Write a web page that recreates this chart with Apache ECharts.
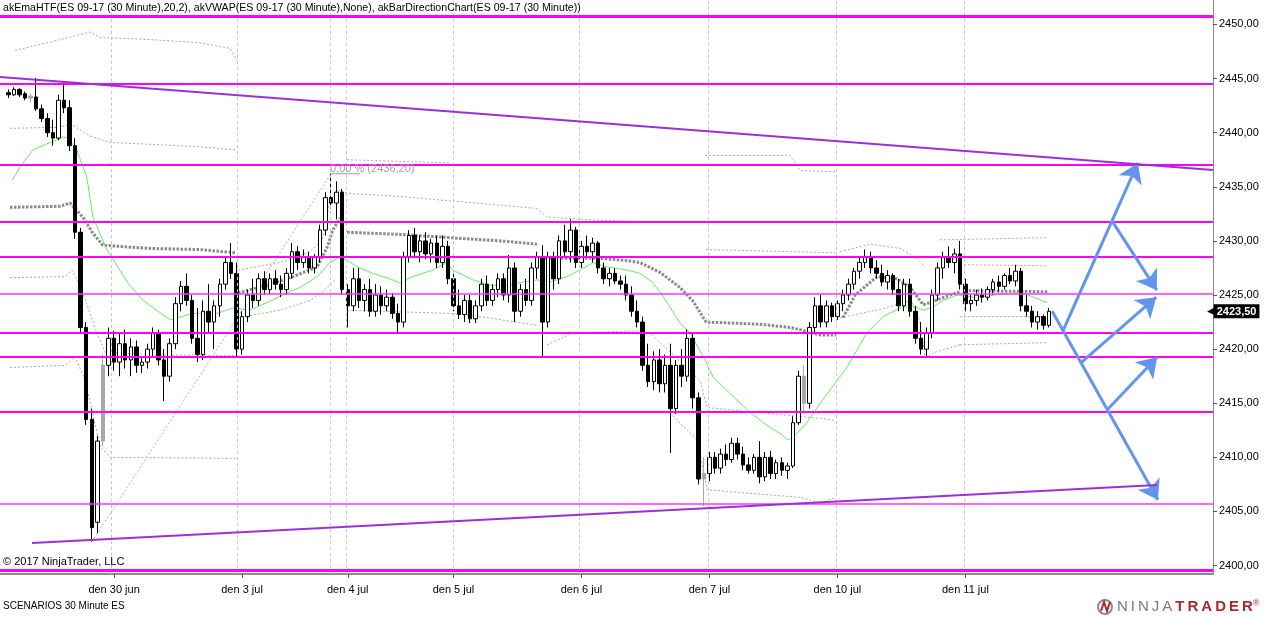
<!DOCTYPE html>
<html><head><meta charset="utf-8">
<script src="https://cdn.jsdelivr.net/npm/echarts@6/dist/echarts.min.js"></script>
<style>html,body{margin:0;padding:0;background:#fff}#c{width:1264px;height:617px}</style>
</head><body><div id="c"></div>
<script>
// ---------------- data ----------------
const slotCount = 218;               // hourly slots across the x axis (incl. empty right margin)
const firstSlot = 1;                 // slot of the first candle
const xTickIndex = [20, 43, 62, 81, 104, 127, 150, 173];
const xTickText = ['den 30 jun', 'den 3 jul', 'den 4 jul', 'den 5 jul', 'den 6 jul', 'den 7 jul', 'den 10 jul', 'den 11 jul'];
const sessionBreaks = [19.45, 42.1, 58.8, 61.7, 80.9, 103.6, 126.7, 149.8, 172.8];
const yTicks = [2400, 2405, 2410, 2415, 2420, 2425, 2430, 2435, 2440, 2445, 2450];
const lastPrice = 2423.5;

// [open, high, low, close]
const ohlc = [
[2443.7,2444.0,2443.2,2443.5],[2443.5,2444.2,2443.4,2444.0],[2444.0,2444.1,2443.3,2443.5],[2443.6,2443.8,2443.0,2443.2],
[2443.2,2443.6,2442.8,2443.4],[2443.3,2445.05,2442.0,2442.2],[2442.2,2442.6,2441.0,2441.3],[2441.3,2441.8,2439.6,2440.0],
[2440.0,2441.2,2438.8,2439.5],[2439.5,2443.5,2439.3,2443.0],[2443.0,2444.7,2441.8,2442.3],[2442.3,2443.0,2438.3,2438.8],
[2438.8,2439.5,2430.2,2430.8],[2430.8,2431.2,2421.5,2422.0],[2422.0,2422.5,2413.0,2413.5],[2413.5,2414.5,2402.2,2403.5],
[2404.0,2412.0,2403.0,2411.5],[2411.5,2419.5,2411.0,2418.5],[2418.5,2422.0,2417.5,2421.0],[2421.0,2421.7,2418.0,2418.8],
[2418.8,2421.5,2417.5,2420.5],[2420.5,2421.8,2418.2,2419.0],[2419.0,2421.0,2417.5,2420.2],[2420.2,2420.8,2417.8,2418.5],
[2418.5,2419.2,2417.8,2418.8],[2418.8,2420.5,2418.2,2420.0],[2420.0,2422.0,2419.3,2421.5],[2421.5,2421.8,2418.5,2419.0],
[2419.0,2420.0,2415.2,2417.5],[2417.5,2421.0,2417.0,2420.5],[2420.5,2424.8,2420.0,2424.2],[2424.2,2426.3,2423.5,2425.8],
[2425.8,2427.0,2424.0,2424.5],[2424.5,2425.0,2420.5,2421.0],[2421.0,2423.8,2418.8,2419.5],[2419.5,2424.5,2419.0,2423.5],
[2423.5,2426.0,2421.5,2422.5],[2422.5,2424.5,2420.0,2424.0],[2424.0,2426.5,2423.0,2426.0],[2426.0,2428.5,2425.5,2428.0],
[2428.0,2429.8,2426.5,2427.0],[2427.0,2428.0,2419.3,2420.0],[2420.0,2423.5,2419.5,2423.0],[2423.0,2425.5,2422.5,2425.0],
[2425.0,2426.5,2423.8,2424.5],[2424.5,2427.0,2424.0,2426.5],[2426.5,2427.2,2425.0,2425.5],[2425.5,2427.0,2425.0,2426.5],
[2426.5,2427.3,2425.5,2426.0],[2426.0,2426.8,2424.8,2425.5],[2425.5,2427.5,2425.0,2427.0],[2427.0,2429.8,2426.5,2429.0],
[2429.0,2429.5,2427.3,2428.0],[2428.0,2429.2,2427.5,2428.5],[2428.5,2429.0,2427.0,2427.5],[2427.5,2428.8,2427.0,2428.5],
[2428.5,2431.5,2428.0,2431.0],[2431.0,2434.5,2430.5,2434.0],[2434.0,2436.2,2433.0,2433.5],[2433.5,2435.5,2432.0,2434.5],
[2434.5,2434.8,2425.0,2425.5],[2425.5,2426.0,2422.0,2424.0],[2424.0,2427.5,2423.5,2426.5],[2426.5,2427.5,2423.8,2424.5],
[2424.5,2426.0,2423.5,2425.5],[2425.5,2426.5,2423.0,2423.5],[2423.5,2426.0,2423.0,2425.0],[2425.0,2425.8,2423.2,2424.0],
[2424.0,2425.5,2423.5,2424.8],[2424.8,2425.2,2422.8,2423.3],[2423.3,2424.2,2421.5,2422.5],[2422.5,2429.0,2422.0,2428.5],
[2428.5,2431.0,2428.0,2430.5],[2430.5,2431.2,2428.5,2429.0],[2429.0,2430.5,2428.0,2430.0],[2430.0,2430.8,2428.3,2428.8],
[2428.8,2430.2,2428.0,2429.8],[2429.8,2430.5,2427.5,2428.0],[2428.0,2430.5,2427.5,2429.5],[2429.5,2430.0,2426.0,2426.5],
[2426.5,2427.0,2423.5,2424.0],[2424.0,2425.5,2422.8,2423.2],[2423.2,2425.0,2422.5,2424.5],[2424.5,2425.0,2422.4,2422.8],
[2422.8,2424.5,2422.4,2424.0],[2424.0,2426.5,2423.5,2426.0],[2426.0,2426.8,2424.0,2424.5],[2424.5,2426.0,2424.0,2425.5],
[2425.5,2427.0,2424.8,2426.5],[2426.5,2427.0,2424.5,2425.0],[2425.0,2428.7,2424.3,2427.5],[2427.5,2428.0,2422.5,2423.5],
[2423.5,2426.0,2423.0,2425.5],[2425.5,2426.5,2424.0,2424.5],[2424.5,2428.0,2424.0,2427.5],[2427.5,2429.0,2426.5,2428.5],
[2428.5,2429.6,2419.3,2422.5],[2422.5,2429.0,2422.0,2428.5],[2428.5,2429.0,2425.5,2426.5],[2426.5,2430.5,2426.0,2430.0],
[2430.0,2431.5,2428.5,2429.0],[2429.0,2432.0,2428.0,2431.0],[2431.0,2431.3,2427.5,2428.0],[2428.0,2430.0,2427.5,2429.5],
[2429.5,2430.5,2428.5,2429.0],[2429.0,2430.3,2428.0,2429.8],[2429.8,2430.0,2427.0,2427.5],[2427.5,2428.0,2426.0,2426.5],
[2426.5,2427.5,2425.8,2427.0],[2427.0,2427.5,2426.0,2426.3],[2426.3,2426.8,2425.5,2426.0],[2426.0,2426.8,2424.5,2425.0],
[2425.0,2425.8,2423.0,2423.5],[2423.5,2424.5,2422.0,2422.5],[2422.5,2423.0,2418.0,2418.5],[2418.5,2420.5,2416.5,2417.0],
[2417.0,2419.8,2416.2,2419.0],[2419.0,2420.0,2416.0,2416.8],[2416.8,2419.5,2416.0,2418.5],[2418.5,2420.5,2410.4,2414.5],
[2414.5,2419.0,2414.0,2418.5],[2418.5,2420.0,2416.5,2417.5],[2417.5,2421.8,2417.0,2421.0],[2421.0,2421.5,2414.5,2415.5],
[2415.5,2416.0,2407.5,2408.0],[2408.0,2410.0,2405.5,2408.5],[2408.5,2410.5,2407.8,2410.0],[2410.0,2410.5,2408.5,2409.0],
[2409.0,2410.8,2408.5,2410.3],[2410.3,2411.2,2409.2,2409.8],[2409.8,2411.8,2409.5,2411.3],[2411.3,2411.8,2409.8,2410.3],
[2410.3,2411.0,2408.8,2409.3],[2409.3,2410.0,2408.5,2408.8],[2408.8,2410.3,2408.5,2410.0],[2410.0,2411.5,2407.6,2408.2],
[2408.2,2410.5,2407.8,2410.0],[2410.0,2410.6,2408.0,2408.5],[2408.5,2409.8,2408.0,2409.5],[2409.5,2410.0,2408.3,2408.8],
[2408.8,2409.5,2408.0,2409.2],[2409.2,2413.8,2409.0,2413.2],[2413.2,2418.0,2413.0,2417.5],[2417.5,2418.5,2414.0,2415.0],
[2415.0,2422.5,2414.5,2422.0],[2422.0,2424.8,2421.5,2424.0],[2424.0,2425.0,2422.0,2422.5],[2422.5,2424.5,2422.0,2424.0],
[2424.0,2424.3,2422.5,2423.0],[2423.0,2424.5,2422.7,2424.2],[2424.2,2425.5,2423.5,2425.0],[2425.0,2426.5,2424.5,2426.0],
[2426.0,2427.5,2425.5,2427.2],[2427.2,2428.5,2426.5,2428.0],[2428.0,2429.2,2427.5,2428.5],[2428.5,2429.0,2427.0,2427.5],
[2427.5,2428.2,2426.5,2427.0],[2427.0,2427.8,2425.8,2426.2],[2426.2,2427.3,2425.5,2426.8],[2426.8,2427.0,2425.0,2425.5],
[2425.5,2426.5,2423.5,2424.0],[2424.0,2426.5,2423.5,2426.0],[2426.0,2426.5,2423.0,2423.5],[2423.5,2424.0,2420.5,2421.0],
[2421.0,2422.5,2419.5,2420.0],[2420.0,2422.0,2419.2,2421.5],[2421.5,2425.5,2421.0,2425.0],[2425.0,2428.0,2424.5,2427.5],
[2427.5,2429.0,2426.5,2428.5],[2428.5,2429.5,2427.5,2428.0],[2428.0,2429.3,2427.0,2428.8],[2428.8,2430.0,2425.5,2426.0],
[2426.0,2426.5,2423.5,2424.2],[2424.2,2425.0,2423.5,2424.5],[2424.5,2425.5,2424.0,2425.0],[2425.0,2425.6,2424.3,2424.8],
[2424.8,2425.8,2424.5,2425.5],[2425.5,2426.5,2425.0,2426.2],[2426.2,2426.8,2425.3,2425.8],[2425.8,2427.0,2425.5,2426.8],
[2426.8,2427.5,2426.0,2426.3],[2426.3,2427.8,2425.8,2427.2],[2427.2,2427.5,2423.5,2424.0],[2424.0,2425.0,2423.0,2423.5],
[2423.5,2424.0,2422.0,2422.5],[2422.5,2423.5,2421.8,2423.0],[2423.0,2423.2,2421.8,2422.2],[2422.2,2423.8,2422.0,2423.5]
];
const grayBarSlots = [5, 18, 126, 144];

// horizontal support / resistance levels
const levels = [2450.75, 2444.5, 2437.0, 2431.8, 2428.5, 2425.1, 2421.55, 2419.25, 2414.25, 2405.75, 2399.6];
// trend lines [slot, price]
const upperTrend = [[-0.5, 2445.15], [217.5, 2436.55]];
const lowerTrend = [[5.25, 2402.08], [207.45, 2407.44]];
// scenario arrows: [start, end] in [slot, price]
const scenarioArrows = [
  [[188.6, 2423.5], [207.6, 2406.05]],
  [[190.55, 2421.7], [204.0, 2437.2]],
  [[199.4, 2431.8], [207.4, 2425.45]],
  [[193.8, 2418.75], [207.3, 2424.8]],
  [[198.5, 2414.4], [207.45, 2419.25]]
];
// EMA (green)
const ema = [[1.7,2435.6],[3.1,2436.8],[5.4,2438.4],[8.5,2439.1],[10.8,2439.6],[11.7,2439.5],[13.3,2438.4],[15.1,2435.9],
[16.2,2432.2],[18.7,2429.2],[20.2,2428.0],[22.5,2426.1],[25.2,2424.5],[30.1,2422.7],[34.2,2423.3],[38.5,2423.3],[41.4,2423.8],
[44.4,2423.6],[47.5,2424.3],[51.1,2425.2],[53.4,2425.7],[56.5,2426.7],[58.8,2428.0],[60.6,2428.5],[61.9,2428.2],[63.7,2427.6],
[66.5,2427.0],[70.1,2426.4],[71.4,2426.1],[73.7,2426.7],[77.3,2427.3],[79.8,2428.0],[80.9,2427.3],[84.5,2426.4],[87.6,2425.9],
[90.6,2425.9],[93.5,2426.2],[96.0,2426.4],[98.4,2426.2],[101.4,2426.7],[103.7,2427.3],[106.1,2428.0],[108.6,2427.6],[112.2,2427.3],
[114.5,2427.0],[116.7,2426.2],[118.5,2425.0],[119.9,2423.9],[121.7,2422.4],[123.5,2421.5],[125.9,2419.3],[127.7,2417.4],
[130.7,2415.9],[133.8,2414.4],[136.6,2413.2],[139.7,2412.2],[141.1,2411.6],[142.7,2412.2],[144.5,2413.2],[146.9,2415.0],
[151.7,2418.3],[155.3,2421.5],[158.2,2423.0],[161.3,2423.8],[163.6,2424.0],[165.4,2423.6],[167.2,2423.9],[169.0,2424.5],
[171.5,2425.0],[174.4,2424.8],[176.9,2424.9],[182.8,2425.3],[187.7,2424.3]];
// VWAP segments (thick grey dots)
const vwapSegments = [
 [[1.3,2433.1],[10.3,2433.2],[12.1,2433.5],[14.4,2432.2],[16.2,2430.7],[18.0,2429.6],[26.5,2429.3],[35.4,2429.2],[41.9,2428.9]],
 [[42.3,2425.2],[47.5,2425.9],[52.2,2426.7],[56.5,2427.6],[58.3,2429.4],[59.3,2431.0],[60.6,2432.1]],
 [[61.9,2430.8],[71.4,2430.6],[80.4,2430.3],[89.4,2430.0],[96.0,2429.7]],
 [[96.7,2428.4],[107.3,2428.4],[111.8,2428.2],[114.5,2428.0],[118.1,2427.1],[121.7,2425.7],[124.1,2424.4],[125.9,2422.9],
  [126.4,2422.5],[136.1,2422.3],[141.5,2422.0],[143.3,2421.8],[146.9,2421.3],[149.8,2421.3]],
 [[151.0,2422.9],[153.2,2425.0],[157.1,2426.7],[160.7,2426.5],[163.1,2425.7],[165.4,2424.1],[167.2,2424.4],[170.2,2425.0],[172.0,2425.3]],
 [[172.9,2425.4],[187.9,2425.3]]
];
// deviation bands (thin grey dotted)
const bands = [
 [[2.2,2447.6],[10.3,2448.6],[15.7,2449.3],[17.5,2448.8],[26.5,2448.6],[35.4,2448.3],[40.8,2447.8],[42.1,2446.7]],
 [[1.3,2440.4],[10.3,2440.5],[12.1,2440.8],[15.7,2439.7],[19.3,2439.1],[35.4,2438.7],[42.1,2438.4]],
 [[1.3,2426.6],[11.2,2426.7],[12.4,2427.3],[13.9,2425.9],[16.9,2421.5],[18.4,2419.7],[26.5,2419.5],[42.1,2419.4]],
 [[1.3,2418.3],[11.2,2418.5],[13.0,2419.3],[14.8,2417.1],[17.5,2411.0],[19.3,2410.0],[42.1,2409.9]],
 [[42.3,2427.3],[49.8,2428.0],[55.2,2429.0],[57.4,2430.1],[58.8,2433.8],[60.6,2434.7],[61.9,2434.4],[71.4,2434.1],[80.4,2433.7],
  [89.4,2433.3],[96.0,2433.0],[97.8,2432.2],[107.3,2431.9],[114.5,2431.8],[118.1,2431.7]],
 [[42.3,2422.9],[49.8,2423.6],[55.2,2424.5],[57.9,2425.5],[59.7,2426.4]],
 [[61.9,2437.5],[80.4,2437.2]],
 [[61.9,2423.6],[80.4,2423.3],[85.8,2423.0],[96.0,2422.2]],
 [[97.8,2420.4],[102.5,2421.5],[114.5,2421.7],[116.3,2421.5],[125.3,2417.1],[126.6,2414.6],[146.9,2413.6],[149.7,2413.4]],
 [[119.9,2414.1],[124.8,2411.6],[126.6,2407.0],[143.3,2406.3],[146.9,2405.8],[149.7,2406.3]],
 [[126.2,2437.9],[141.5,2437.9],[143.3,2436.5],[149.7,2436.4]],
 [[126.4,2429.2],[149.7,2428.9]],
 [[150.5,2429.0],[155.9,2429.7],[161.3,2429.3],[164.3,2428.4],[165.7,2427.6]],
 [[150.5,2422.9],[158.0,2423.7],[163.3,2424.5],[164.8,2422.6],[165.8,2419.2],[167.5,2419.7],[172.0,2420.4]],
 [[168.4,2430.1],[187.7,2430.3]],
 [[172.0,2427.8],[187.7,2427.7]],
 [[172.0,2423.0],[187.7,2423.0]],
 [[172.0,2420.4],[187.7,2420.6]]
];
// fibonacci anchor (swing low -> swing high) and its 0% level
const fibAnchor = [[16, 2402.2], [59, 2436.2]];
const fibLevel = [[59, 2436.2], [64.2, 2436.2]];
const fibText = '0,00 % (2436,20)';

const titleText = 'akEmaHTF(ES 09-17 (30 Minute),20,2), akVWAP(ES 09-17 (30 Minute),None), akBarDirectionChart(ES 09-17 (30 Minute))';

// ---------------- chart ----------------
const FONT = 'Liberation Sans, Arial, sans-serif';
const categories = [];
for (let i = 0; i < slotCount; i++) {
  const k = xTickIndex.indexOf(i);
  categories.push(k >= 0 ? xTickText[k] : '');
}
const candleData = [];
for (let i = 0; i < slotCount; i++) candleData.push('-');
ohlc.forEach((r, k) => {
  const slot = firstSlot + k;
  const v = [r[0], r[3], r[2], r[1]];
  if (grayBarSlots.indexOf(slot) >= 0) {
    candleData[slot] = { value: v, itemStyle: { color: '#a8a8a8', color0: '#a8a8a8', borderColor: '#a8a8a8', borderColor0: '#a8a8a8' } };
  } else candleData[slot] = v;
});

const levelWidths = [3, 2, 2, 2, 2, 1.5, 2, 2, 2, 1.5, 3];
const levelColors = ['#ff00ff', '#ff00ff', '#ff00ff', '#ff00ff', '#ff00ff', '#ff33ff', '#ff00ff', '#ff00ff', '#ff00ff', '#ff33ff', '#ff00ff'];

function lineSeries(data, style, z) {
  return { type: 'line', xAxisIndex: 1, yAxisIndex: 0, data: data, showSymbol: false, symbol: 'none',
    silent: true, z: z, lineStyle: style, animation: false };
}

const series = [];
// session grid lines
series.push({ type: 'line', xAxisIndex: 1, data: [], silent: true, z: 1,
  markLine: { silent: true, symbol: 'none', label: { show: false },
    lineStyle: { color: '#c4c4c4', width: 1, type: [3, 3] },
    data: sessionBreaks.map(v => ({ xAxis: v })) } });
bands.forEach(b => series.push(lineSeries(b, { color: '#a8a8a8', width: 1, type: [2, 2] }, 2)));
vwapSegments.forEach(s => series.push(lineSeries(s, { color: '#8a8a8a', width: 3, type: [2.5, 1.5] }, 2)));
series.push(lineSeries(ema, { color: '#5ef25e', width: 1 }, 2));
series.push(lineSeries(fibAnchor, { color: '#b0b0b0', width: 1, type: [2, 2] }, 2));
series.push(Object.assign(lineSeries(fibLevel, { color: '#a0a0a0', width: 1 }, 2), {
  markPoint: { silent: true, symbol: 'circle', symbolSize: 0,
    label: { show: true, formatter: fibText, position: [-1, -10], color: '#a0a0a0', fontSize: 11, fontFamily: FONT },
    data: [{ coord: fibLevel[0] }] } }));
series.push({ type: 'candlestick', xAxisIndex: 0, yAxisIndex: 0, data: candleData, barWidth: 4, z: 3, silent: true,
  itemStyle: { color: '#ffffff', color0: '#000000', borderColor: '#000000', borderColor0: '#000000', borderWidth: 1 } });
// levels
series.push({ type: 'line', xAxisIndex: 1, data: [], silent: true, z: 4,
  markLine: { silent: true, symbol: 'none', label: { show: false },
    data: levels.map((v, i) => ({ yAxis: v, lineStyle: { color: levelColors[i], width: levelWidths[i], type: 'solid', opacity: 1 } })) } });
series.push(lineSeries(upperTrend, { color: '#9b30d9', width: 2 }, 5));
series.push(lineSeries(lowerTrend, { color: '#9b30d9', width: 2 }, 5));
// arrows
series.push({ type: 'line', xAxisIndex: 1, data: [], silent: true, z: 6,
  markLine: { silent: true, symbol: ['none', 'arrow'], symbolSize: 19, label: { show: false },
    lineStyle: { color: '#6495ed', width: 3, type: 'solid', opacity: 1 },
    data: scenarioArrows.map(a => [{ coord: a[0] }, { coord: a[1] }]) } });
// last price tag
series.push({ type: 'line', xAxisIndex: 1, data: [], silent: true, z: 7,
  markLine: { silent: true, symbol: 'none', lineStyle: { color: 'rgba(0,0,0,0)', width: 0 },
    label: { show: true, position: 'end', distance: -6,
      formatter: '{t|\u25C0}{v|' + lastPrice.toFixed(2).replace('.', ',') + '}',
      rich: { t: { color: '#000', fontSize: 10, fontFamily: 'DejaVu Sans', padding: [0, -1, 0, 0] },
              v: { backgroundColor: '#000', color: '#fff', fontSize: 11, fontWeight: 'bold', fontFamily: FONT, padding: [2, 3, 1, 3] } } },
    data: [{ yAxis: lastPrice }] } });

const chart = echarts.init(document.getElementById('c'), null, { renderer: 'canvas' });
chart.setOption({
  animation: false,
  backgroundColor: '#ffffff',
  textStyle: { fontFamily: FONT },
  grid: { left: 0, right: 51, top: 0, bottom: 43 },
  xAxis: [
    { type: 'category', data: categories, boundaryGap: true,
      axisLine: { show: true, onZero: false, lineStyle: { color: '#8c8c8c', width: 2 } },
      axisTick: { show: true, alignWithLabel: true, interval: (i, v) => v !== '', length: 4, lineStyle: { color: '#555' } },
      axisLabel: { interval: (i, v) => v !== '', color: '#000', fontSize: 11, margin: 10, fontFamily: FONT },
      splitLine: { show: false } },
    { type: 'value', min: -0.5, max: slotCount - 0.5, show: false }
  ],
  yAxis: [
    { type: 'value', position: 'right', min: 2399.22, max: 2452.26,
      axisLine: { show: true, onZero: false, lineStyle: { color: '#8c8c8c', width: 1 } },
      axisTick: { show: true, length: 4, customValues: yTicks, lineStyle: { color: '#555' } },
      axisLabel: { customValues: yTicks, formatter: v => v.toFixed(2).replace('.', ','), color: '#000', fontSize: 11, margin: 6, fontFamily: FONT },
      splitLine: { show: false } }
  ],
  graphic: [
    { type: 'text', left: 3, top: 3, z: 100, style: { text: titleText, font: '10.6px ' + FONT, fill: '#000' } },
    { type: 'text', left: 3, top: 556, z: 100, style: { text: '\u00a9 2017 NinjaTrader, LLC', font: '11px ' + FONT, fill: '#000' } },
    { type: 'text', left: 3, top: 601, z: 100, style: { text: 'SCENARIOS 30 Minute ES', font: '10px ' + FONT, fill: '#000' } },
    { type: 'circle', shape: { cx: 1105, cy: 607, r: 7 }, z: 100, style: { fill: 'none', stroke: '#8a8a8a', lineWidth: 2 } },
    { type: 'polyline', shape: { points: [[1101, 611], [1104, 602], [1107, 611], [1110, 602]] }, z: 101, style: { stroke: '#b0282d', lineWidth: 2, fill: 'none' } },
    { type: 'text', left: 1117, top: 599, z: 100, style: {
      text: '{a|N\u2009I\u2009N\u2009J\u2009A\u2009}{b|T\u2009R\u2009A\u2009D\u2009E\u2009R}{c|\u00ae}',
      rich: { a: { font: '15px ' + FONT, fill: '#7a7a7a' }, b: { font: 'bold 15px ' + FONT, fill: '#b0282d' }, c: { font: '9px ' + FONT, fill: '#b0282d', verticalAlign: 'top' } } } }
  ],
  series: series
});
</script></body></html>
